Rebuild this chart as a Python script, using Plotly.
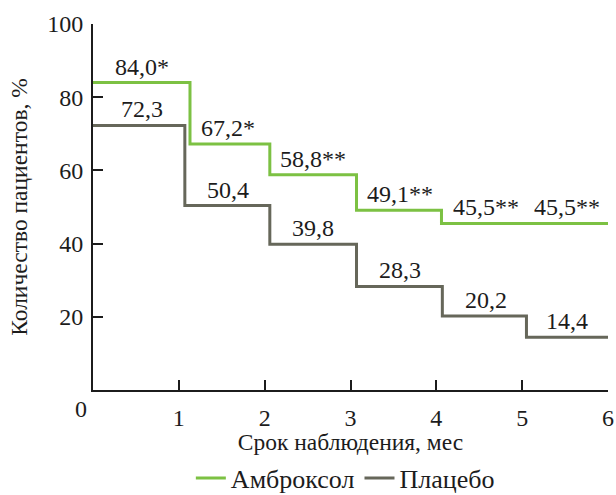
import plotly.graph_objects as go

# Data (months, percent of patients)
amb_label = "Амброксол"
plc_label = "Плацебо"
amb_values = [84.0, 67.2, 58.8, 49.1, 45.5, 45.5]
plc_values = [72.3, 50.4, 39.8, 28.3, 20.2, 14.4]
amb_text = ["84,0*", "67,2*", "58,8**", "49,1**", "45,5**", "45,5**"]
plc_text = ["72,3", "50,4", "39,8", "28,3", "20,2", "14,4"]
# step start times as drawn (months)
amb_steps = [0, 1.13, 2.06, 3.07, 4.06, 5.0]
plc_steps = [0, 1.07, 2.06, 3.07, 4.07, 5.05]
end_month = 6
label_pos = [0.57, 1.57, 2.56, 3.58, 4.58, 5.52]
x_ticks = [1, 2, 3, 4, 5, 6]
y_ticks = [20, 40, 60, 80, 100]

GREEN = "#7cc143"
GREY = "#66675a"
INK = "#1c1c1c"
FONT = "Liberation Serif"
FS = 24

fig = go.Figure()
fig.add_trace(go.Scatter(
    x=amb_steps + [end_month], y=amb_values + [amb_values[-1]],
    mode="lines", line=dict(shape="hv", color=GREEN, width=3), name=amb_label))
fig.add_trace(go.Scatter(
    x=plc_steps + [end_month], y=plc_values + [plc_values[-1]],
    mode="lines", line=dict(shape="hv", color=GREY, width=3), name=plc_label))

for xp, v, t in zip(label_pos, amb_values, amb_text):
    fig.add_annotation(x=xp, y=v, text=t, showarrow=False, yshift=16,
                       font=dict(family=FONT, size=FS, color=INK))
for xp, v, t in zip(label_pos, plc_values, plc_text):
    fig.add_annotation(x=xp, y=v, text=t, showarrow=False, yshift=16,
                       font=dict(family=FONT, size=FS, color=INK))

fig.add_annotation(x=0, y=0, text="0", showarrow=False, xshift=-12, yshift=-19,
                   font=dict(family=FONT, size=FS, color=INK))

fig.update_layout(
    width=616, height=495,
    margin=dict(l=93, r=8, t=24, b=105),
    paper_bgcolor="white", plot_bgcolor="white",
    font=dict(family=FONT, size=FS, color=INK),
    showlegend=True,
    legend=dict(orientation="h", x=0.49, xanchor="center",
                yref="container", y=0.034, yanchor="middle",
                font=dict(family=FONT, size=26, color=INK)),
)
fig.update_xaxes(range=[0, 6], tickvals=x_ticks, showline=True, linecolor=INK, linewidth=2,
                 ticks="inside", ticklen=10, tickwidth=1.5, tickcolor=INK,
                 showgrid=False, zeroline=False, automargin=False, ticklabelstandoff=5,
                 title=dict(text="Срок наблюдения, мес", standoff=15,
                            font=dict(family=FONT, size=23.5, color=INK)))
fig.update_yaxes(range=[0, 100], tickvals=y_ticks, showline=True, linecolor=INK, linewidth=2,
                 ticks="inside", ticklen=10, tickwidth=1.5, tickcolor=INK,
                 showgrid=False, zeroline=False, automargin=False, ticklabelstandoff=3,
                 title=dict(text="Количество пациентов, %", standoff=13,
                            font=dict(family=FONT, size=23.5, color=INK)))

fig.write_html("out.html", config={"displayModeBar": False},
               post_script="document.body.style.margin='0';document.body.style.overflow='hidden';")
